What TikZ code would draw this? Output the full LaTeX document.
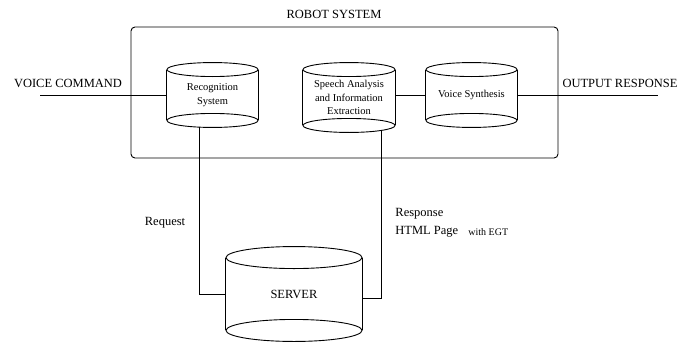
\documentclass[tikz,border=0pt]{standalone}
\usepackage{fontspec}
\setmainfont{Liberation Serif}
\tikzset{
	drum/.style={inner sep=0pt, align=center, font=\fontsize{10.5}{13.5}\selectfont},
	lbl/.style={inner sep=0pt, font=\fontsize{12.5}{15}\selectfont},
}
\begin{document}
\begin{tikzpicture}[x=1pt,y=1pt,line width=0.9pt]
	\useasboundingbox (0,0) rectangle (679,341);
	
	% robot system frame
	\node[draw, rounded corners=4pt, minimum width=427pt, minimum height=131pt] (robot) at (344.5,248.5) {};
	\node[lbl] (robotlbl) at (334,327) {ROBOT SYSTEM};
	
	% drums: centre, width = 2 rx, height = distance of the two ellipses
	\node[drum, minimum width=91pt, minimum height=50pt] (rec) at (212.5,246) {Recognition\\System};
	\node[drum, minimum width=92pt, minimum height=55pt] (sp) at (349,243.5) {Speech Analysis\\and Information\\Extraction};
	\node[drum, minimum width=91pt, minimum height=50pt] (vs) at (471.5,246) {Voice Synthesis};
	\node[drum, lbl, minimum width=136pt, minimum height=72pt] (srv) at (294,47) {SERVER};
	
	\foreach \n/\rx/\ry in {rec/45.5/7, sp/46/7, vs/45.5/7, srv/68/11}{
		\draw (\n.north) ellipse [x radius=\rx pt, y radius=\ry pt];
		\draw (\n.south) ellipse [x radius=\rx pt, y radius=\ry pt];
		\draw (\n.north west) -- (\n.south west);
		\draw (\n.north east) -- (\n.south east);
	}
	
	% input and output
	\coordinate (cmd) at (40,246);
	\coordinate (out) at (658,246);
	\node[lbl] (cmdlbl) at (68,258) {VOICE COMMAND};
	\node[lbl] (outlbl) at (620,258) {OUTPUT RESPONSE};
	\draw (cmd) -- (rec.west);
	\draw (vs.west -| sp.east) -- (vs.west);
	\draw (vs.east) -- (out);
	
	% server links
	\draw ([xshift=-13.5pt,yshift=-6.7pt]rec.south) |- (srv.west);
	\draw ([xshift=32pt,yshift=-5pt]sp.south) |- ([yshift=-4pt]srv.east);
	\node[lbl] (req) at (165,118) {Request};
	\node[lbl, anchor=west] (resp) at (395,127) {Response};
	\node[lbl, anchor=west] (html) at (395,109) {HTML Page};
	\node[inner sep=0pt, anchor=west, font=\fontsize{10}{12}\selectfont] (egt) at (468,109) {with EGT};
	
\end{tikzpicture}
\end{document}
